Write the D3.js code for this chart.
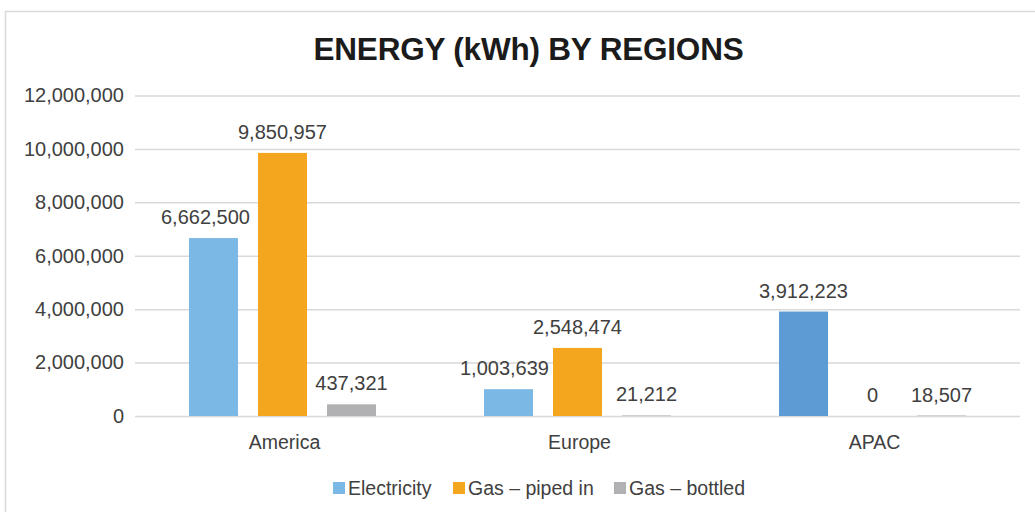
<!DOCTYPE html>
<html>
<head>
<meta charset="utf-8">
<script src="https://cdn.jsdelivr.net/npm/d3@7"></script>
<style>
  html, body { margin: 0; padding: 0; background: #fff; }
  svg { display: block; }
  text { font-family: "Liberation Sans", Arial, Helvetica, sans-serif; }
</style>
</head>
<body>
<svg id="chart" width="1035" height="512"></svg>
<script>
// Energy use by region, kWh
const regions = ["America", "Europe", "APAC"];
const seriesNames = ["Electricity", "Gas – piped in", "Gas – bottled"];
const electricity = [6662500, 1003639, 3912223];
const gasPiped = [9850957, 2548474, 0];
const gasBottled = [437321, 21212, 18507];
const yTicks = [0, 2000000, 4000000, 6000000, 8000000, 10000000, 12000000];

const seriesValues = [electricity, gasPiped, gasBottled];
const seriesColors = ["#7cb8e5", "#f4a71e", "#b1b1b4"];
// APAC electricity is shown in a deeper blue
const pointColor = (s, c) => (s === 0 && regions[c] === "APAC") ? "#5d9bd4" : seriesColors[s];
// small horizontal nudges so wide labels do not collide with neighbours
const labelShift = { "0-0": -8, "0-1": -4 };

const svg = d3.select("#chart");
const W = 1035, H = 512;
const plot = { left: 135, right: 1020, top: 95.5, bottom: 416 };

// outer frame
svg.append("rect")
  .attr("x", 5.5).attr("y", 11.5)
  .attr("width", W + 10).attr("height", H + 10)
  .attr("fill", "#fff").attr("stroke", "#d9d9d9").attr("stroke-width", 1.5);

// title
svg.append("text")
  .attr("x", 528.5).attr("y", 60)
  .attr("text-anchor", "middle")
  .attr("font-size", 31.5).attr("font-weight", "bold")
  .attr("letter-spacing", -0.2)
  .attr("fill", "#1b1b1b")
  .text("ENERGY (kWh) BY REGIONS");

const y = d3.scaleLinear().domain([0, 12000000]).range([plot.bottom, plot.top]);
const x0 = d3.scaleBand().domain(regions).range([plot.left, plot.right]);
const groupW = 187;
const x1 = d3.scaleBand().domain(d3.range(seriesNames.length)).range([0, groupW])
  .paddingInner(20 / 69).paddingOuter(0);
const groupStart = r => x0(r) + (x0.bandwidth() - groupW) / 2;

const fmt = d3.format(",");
const textColor = "#404040";

// gridlines and tick labels
const yAxis = d3.axisLeft(y).tickValues(yTicks).tickFormat(fmt)
  .tickSize(-(plot.right - plot.left)).tickPadding(11);
const gy = svg.append("g").attr("transform", `translate(${plot.left},0)`).call(yAxis);
gy.select(".domain").remove();
gy.selectAll(".tick line").attr("stroke", "#d9d9d9").attr("stroke-width", 1.5);
gy.selectAll(".tick text")
  .attr("font-size", 20).attr("fill", textColor)
  .attr("font-family", "Liberation Sans, Arial, sans-serif");

// category axis labels
const xAxis = d3.axisBottom(x0).tickSize(0).tickPadding(19);
const gx = svg.append("g").attr("transform", `translate(0,${plot.bottom})`).call(xAxis);
gx.select(".domain").remove();
gx.selectAll(".tick text")
  .attr("font-size", 19.5).attr("fill", textColor)
  .attr("font-family", "Liberation Sans, Arial, sans-serif")
  .attr("dx", 2);

// bars and value labels
const cells = [];
seriesValues.forEach((vals, s) => vals.forEach((v, c) => cells.push({ s, c, v })));

svg.append("g").selectAll("rect").data(cells).join("rect")
  .attr("x", d => groupStart(regions[d.c]) + x1(d.s))
  .attr("width", x1.bandwidth())
  .attr("y", d => y(d.v))
  .attr("height", d => y(0) - y(d.v))
  .attr("fill", d => pointColor(d.s, d.c));

svg.append("g").selectAll("text").data(cells).join("text")
  .attr("x", d => groupStart(regions[d.c]) + x1(d.s) + x1.bandwidth() / 2 + (labelShift[`${d.s}-${d.c}`] || 0))
  .attr("y", d => y(d.v) - 14)
  .attr("text-anchor", "middle")
  .attr("font-size", 20).attr("fill", textColor)
  .text(d => fmt(d.v));

// legend
const legendX = [333, 453, 614];
const lg = svg.append("g").selectAll("g").data(seriesNames).join("g")
  .attr("transform", (d, i) => `translate(${legendX[i]},482)`);
lg.append("rect").attr("width", 12).attr("height", 12)
  .attr("fill", (d, i) => seriesColors[i]);
lg.append("text").attr("x", 15).attr("y", 12.5)
  .attr("font-size", 19.5).attr("fill", textColor)
  .text(d => d);
</script>
</body>
</html>
